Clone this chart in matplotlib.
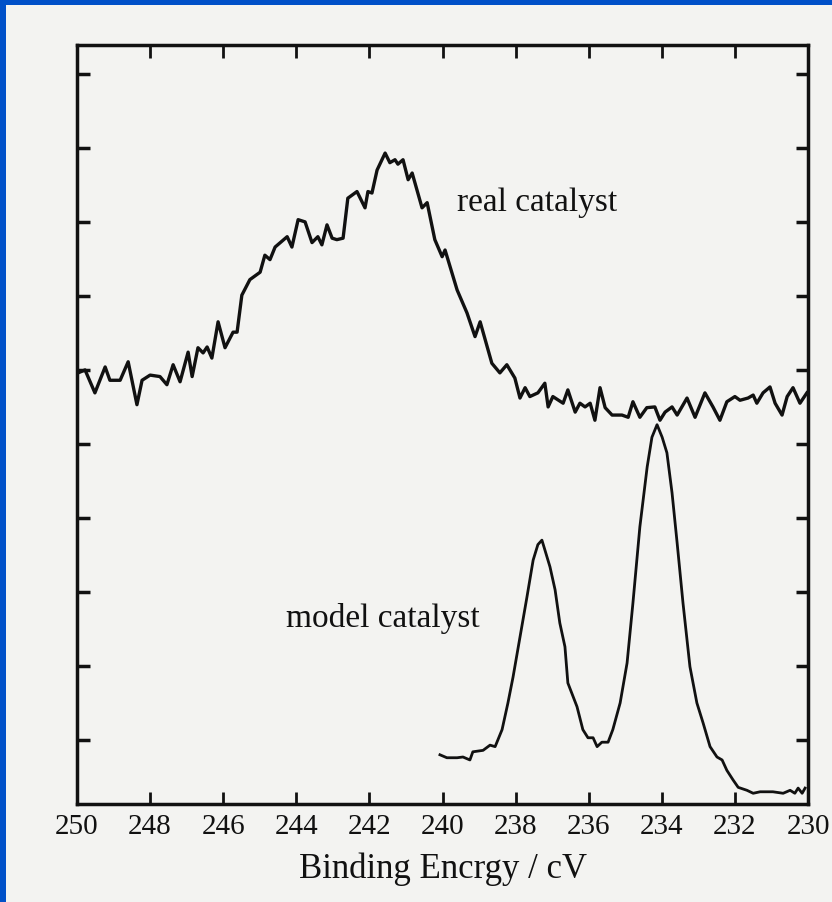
import matplotlib.pyplot as plt
from matplotlib.patches import Rectangle

# XPS spectra (binding energy in eV, intensity in arb. units)
real_energy = [249.97, 249.78, 249.51, 249.23, 249.10, 248.82, 248.60, 248.36, 248.22, 248.00,
               247.73, 247.54, 247.37, 247.18, 246.96, 246.85, 246.69, 246.55, 246.44, 246.31,
               246.14, 245.95, 245.73, 245.62, 245.49, 245.27, 244.99, 244.86, 244.72, 244.58,
               244.25, 244.12, 243.95, 243.76, 243.57, 243.41, 243.30, 243.16, 243.02, 242.89,
               242.72, 242.59, 242.34, 242.12, 242.04, 241.93, 241.79, 241.57, 241.44, 241.30,
               241.22, 241.08, 240.94, 240.83, 240.56, 240.42, 240.21, 240.01, 239.93, 239.60,
               239.33, 239.11, 238.97, 238.65, 238.43, 238.24, 238.02, 237.88, 237.74, 237.61,
               237.39, 237.20, 237.11, 236.98, 236.70, 236.57, 236.37, 236.24, 236.10, 235.96,
               235.83, 235.69, 235.55, 235.36, 235.09, 234.92, 234.79, 234.60, 234.41, 234.19,
               234.05, 233.91, 233.72, 233.58, 233.31, 233.09, 232.82, 232.60, 232.41, 232.22,
               232.00, 231.86, 231.64, 231.50, 231.40, 231.23, 231.04, 230.90, 230.71, 230.57,
               230.41, 230.22, 230.03]
real_counts = [5.96, 6.00, 5.69, 6.04, 5.86, 5.86, 6.11, 5.53, 5.86, 5.93,
               5.91, 5.80, 6.07, 5.84, 6.24, 5.91, 6.30, 6.23, 6.31, 6.16,
               6.65, 6.30, 6.51, 6.51, 7.01, 7.22, 7.32, 7.55, 7.49, 7.66,
               7.80, 7.66, 8.03, 8.00, 7.72, 7.80, 7.69, 7.96, 7.78, 7.76,
               7.78, 8.32, 8.41, 8.19, 8.41, 8.39, 8.70, 8.93, 8.80, 8.84,
               8.78, 8.84, 8.57, 8.66, 8.19, 8.26, 7.76, 7.53, 7.62, 7.08,
               6.77, 6.45, 6.65, 6.09, 5.96, 6.07, 5.89, 5.62, 5.76, 5.64,
               5.69, 5.82, 5.50, 5.64, 5.55, 5.73, 5.43, 5.55, 5.50, 5.55,
               5.32, 5.76, 5.49, 5.39, 5.39, 5.36, 5.57, 5.36, 5.49, 5.50,
               5.32, 5.43, 5.50, 5.39, 5.62, 5.36, 5.69, 5.50, 5.32, 5.57,
               5.64, 5.59, 5.62, 5.66, 5.55, 5.69, 5.77, 5.55, 5.39, 5.64,
               5.76, 5.55, 5.69]

model_energy = [240.07, 239.88, 239.60, 239.44, 239.25, 239.17, 238.89, 238.70, 238.56, 238.37,
                238.21, 238.07, 237.88, 237.69, 237.52, 237.39, 237.28, 237.20, 237.06, 236.92,
                236.79, 236.65, 236.57, 236.32, 236.16, 236.02, 235.88, 235.77, 235.64, 235.47,
                235.34, 235.14, 234.95, 234.79, 234.60, 234.40, 234.27, 234.13, 233.99, 233.86,
                233.72, 233.58, 233.42, 233.23, 233.04, 232.87, 232.68, 232.49, 232.35, 232.22,
                232.05, 231.91, 231.67, 231.50, 231.31, 230.96, 230.68, 230.49, 230.36, 230.27,
                230.16, 230.08]
model_counts = [0.80, 0.76, 0.76, 0.77, 0.73, 0.84, 0.86, 0.93, 0.91, 1.14,
                1.50, 1.85, 2.39, 2.93, 3.43, 3.64, 3.70, 3.57, 3.34, 3.03,
                2.58, 2.26, 1.77, 1.45, 1.14, 1.03, 1.03, 0.91, 0.97, 0.97,
                1.14, 1.50, 2.04, 2.85, 3.88, 4.69, 5.09, 5.26, 5.09, 4.88,
                4.34, 3.66, 2.85, 1.99, 1.50, 1.23, 0.91, 0.77, 0.73, 0.59,
                0.46, 0.36, 0.32, 0.28, 0.30, 0.30, 0.28, 0.32, 0.28, 0.35,
                0.28, 0.35]

x_ticks = [250, 248, 246, 244, 242, 240, 238, 236, 234, 232, 230]
y_ticks = [1, 2, 3, 4, 5, 6, 7, 8, 9, 10]

paper = '#f3f3f1'
ink = '#111111'
blue = '#0050c8'
plt.rcParams['font.family'] = ['Liberation Serif', 'DejaVu Serif']

fig = plt.figure(figsize=(8.32, 9.02), dpi=100, facecolor=paper)
# blue slide edge on the left and top of the scanned page
fig.patches.append(Rectangle((0, 0), 6 / 832, 1, transform=fig.transFigure,
                             facecolor=blue, edgecolor='none'))
fig.patches.append(Rectangle((0, 1 - 5 / 902), 1, 5 / 902, transform=fig.transFigure,
                             facecolor=blue, edgecolor='none'))

ax = fig.add_axes([77 / 832, 98 / 902, 731 / 832, 759 / 902])
ax.set_facecolor(paper)

ax.plot(real_energy, real_counts, color=ink, lw=2.4, solid_joinstyle='round')
ax.plot(model_energy, model_counts, color=ink, lw=2.0, solid_joinstyle='round')

ax.text(239.6, 8.15, 'real catalyst', fontsize=24, color=ink, ha='left', va='baseline')
ax.text(244.28, 2.53, 'model catalyst', fontsize=24, color=ink, ha='left', va='baseline')

ax.set_xlim(250, 230)
ax.set_ylim(0.135, 10.39)
ax.set_xticks(x_ticks)
ax.set_yticks(y_ticks)
ax.set_yticklabels([])
ax.tick_params(axis='x', direction='in', top=True, length=9, width=2, labelsize=21,
               pad=7, colors=ink)
ax.tick_params(axis='y', direction='in', right=True, length=9, width=2.5, colors=ink)
for s in ax.spines.values():
    s.set_linewidth(2.5)
    s.set_color(ink)

ax.set_xlabel('Binding Encrgy / cV', fontsize=25, color=ink, labelpad=9)

fig.savefig('out.png', dpi=100, facecolor=fig.get_facecolor())
